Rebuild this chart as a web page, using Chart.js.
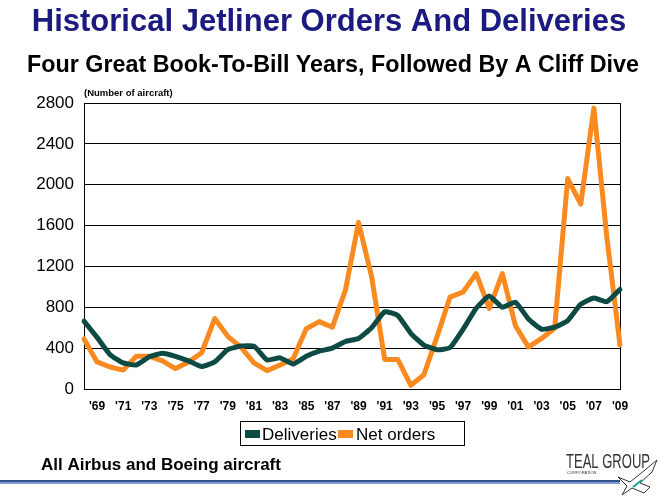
<!DOCTYPE html>
<html>
<head>
<meta charset="utf-8">
<script src="https://cdn.jsdelivr.net/npm/chart.js@4/dist/chart.umd.min.js"></script>
<style>
  html, body { margin: 0; padding: 0; background: #fff; }
  #wrap { position: relative; width: 662px; height: 497px; }
</style>
</head>
<body>
<div id="wrap"><canvas id="jet" width="662" height="497"></canvas></div>
<script>
// Airbus + Boeing, 1968-2009
const years = [
  1968, 1969, 1970, 1971, 1972, 1973, 1974, 1975, 1976, 1977,
  1978, 1979, 1980, 1981, 1982, 1983, 1984, 1985, 1986, 1987,
  1988, 1989, 1990, 1991, 1992, 1993, 1994, 1995, 1996, 1997,
  1998, 1999, 2000, 2001, 2002, 2003, 2004, 2005, 2006, 2007,
  2008, 2009
];
const deliveries = [
  665, 505, 335, 255, 235, 315, 350, 320, 275, 220,
  265, 385, 420, 420, 285, 305, 245, 320, 370, 400,
  465, 495, 600, 755, 720, 545, 430, 385, 405, 585,
  790, 910, 800, 850, 685, 585, 605, 670, 830, 890,
  855, 975
];
const netOrders = [
  490, 265, 215, 185, 320, 320, 275, 200, 265, 355,
  690, 515, 410, 255, 180, 235, 295, 590, 660, 605,
  970, 1630, 1100, 290, 290, 35, 140, 510, 900, 950,
  1130, 790, 1130, 620, 410, 495, 595, 2060, 1810, 2750,
  1480, 430
];

const TEAL = '#0e4a44';
const ORANGE = '#f98a1f';
const FONT = '"Liberation Sans", Arial, sans-serif';

// plot frame + slide texts
const slideDecor = {
  id: 'slideDecor',
  beforeDatasetsDraw(chart) {
    const { ctx, chartArea: a } = chart;
    ctx.save();
    ctx.strokeStyle = '#000';
    ctx.lineWidth = 1;
    ctx.strokeRect(Math.round(a.left) + 0.5, Math.round(a.top) + 0.5,
      Math.round(a.right - a.left), Math.round(a.bottom - a.top));
    ctx.restore();
  },
  afterDraw(chart) {
    const ctx = chart.ctx;
    ctx.save();
    ctx.textBaseline = 'alphabetic';

    ctx.fillStyle = '#1a1a80';
    ctx.font = 'bold 31px ' + FONT;
    ctx.textAlign = 'center';
    ctx.fillText('Historical Jetliner Orders And Deliveries', 329, 31);

    ctx.fillStyle = '#000';
    ctx.font = 'bold 23.3px ' + FONT;
    ctx.fillText('Four Great Book-To-Bill Years, Followed By A Cliff Dive', 333, 72);

    ctx.textAlign = 'left';
    ctx.font = 'bold 9.5px ' + FONT;
    ctx.fillText('(Number of aircraft)', 84, 96);

    // legend
    ctx.strokeStyle = '#000';
    ctx.lineWidth = 1;
    ctx.strokeRect(240.5, 421.5, 224, 24);
    ctx.fillStyle = TEAL;
    ctx.fillRect(245, 430, 15, 8);
    ctx.fillStyle = ORANGE;
    ctx.fillRect(338, 430, 15, 8);
    ctx.fillStyle = '#000';
    ctx.font = '17px ' + FONT;
    ctx.fillText('Deliveries', 262, 440);
    ctx.fillText('Net orders', 356, 440);

    // footer
    ctx.font = 'bold 17px ' + FONT;
    ctx.fillText('All Airbus and Boeing aircraft', 41, 470);
    ctx.fillStyle = '#2f4f8f';
    ctx.fillRect(0, 480, 620, 2);
    ctx.fillStyle = '#7d9bcc';
    ctx.fillRect(0, 482, 620, 2);

    // logo
    ctx.fillStyle = '#333';
    ctx.font = '20px "Liberation Sans Narrow", "Liberation Sans", sans-serif';
    ctx.fillText('TEAL GROUP', 566, 468, 84);
    ctx.font = '4px ' + FONT;
    ctx.fillText('CORPORATION', 567, 474);
    ctx.strokeStyle = '#333';
    ctx.lineWidth = 1;
    ctx.beginPath();
    ctx.moveTo(618, 477); ctx.lineTo(630, 482); ctx.lineTo(645, 470);
    ctx.lineTo(657, 460); ctx.lineTo(652, 472); ctx.lineTo(640, 483);
    ctx.lineTo(650, 487); ctx.lineTo(644, 493); ctx.lineTo(632, 488);
    ctx.lineTo(622, 495); ctx.lineTo(627, 486); ctx.lineTo(618, 477);
    ctx.stroke();
    ctx.strokeStyle = '#1aa39a';
    ctx.lineWidth = 2;
    ctx.beginPath();
    ctx.moveTo(633, 487); ctx.lineTo(642, 480);
    ctx.stroke();
    ctx.restore();
  }
};

new Chart(document.getElementById('jet'), {
  type: 'line',
  data: {
    labels: years,
    datasets: [
      {
        label: 'Deliveries',
        data: deliveries,
        borderColor: TEAL,
        backgroundColor: TEAL,
        borderWidth: 5,
        pointRadius: 0,
        tension: 0.15,
        borderJoinStyle: 'round',
        borderCapStyle: 'round'
      },
      {
        label: 'Net orders',
        data: netOrders,
        borderColor: ORANGE,
        backgroundColor: ORANGE,
        borderWidth: 5,
        pointRadius: 0,
        tension: 0,
        borderJoinStyle: 'round',
        borderCapStyle: 'round'
      }
    ]
  },
  options: {
    responsive: false,
    animation: false,
    layout: { padding: { top: 103, right: 42, bottom: 68, left: 0 } },
    plugins: { legend: { display: false }, tooltip: { enabled: false } },
    scales: {
      x: {
        type: 'category',
        offset: false,
        grid: { display: false, drawTicks: false },
        border: { display: false },
        afterFit: (s) => { s.height = 40; },
        ticks: {
          autoSkip: false,
          maxRotation: 0,
          padding: 10,
          color: '#000',
          font: { family: FONT, size: 12, weight: 'bold' },
          callback: function (v, i) {
            const y = years[i];
            return y % 2 === 1 ? "'" + String(y).slice(2) : '';
          }
        }
      },
      y: {
        min: 0,
        max: 2800,
        afterFit: (s) => { s.width = 84; },
        grid: { color: '#000', lineWidth: 1, drawTicks: false },
        border: { display: false },
        ticks: {
          stepSize: 400,
          padding: 10,
          color: '#000',
          font: { family: FONT, size: 17 },
          callback: (v) => String(v)
        }
      }
    }
  },
  plugins: [slideDecor]
});
</script>
</body>
</html>
